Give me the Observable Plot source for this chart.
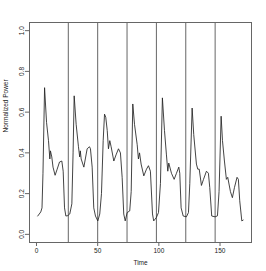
<!DOCTYPE html>
<html>
<head>
<meta charset="utf-8">
<script src="https://cdn.jsdelivr.net/npm/d3@7"></script>
<script src="https://cdn.jsdelivr.net/npm/@observablehq/plot@0.6"></script>
<style>
  html, body { margin: 0; padding: 0; background: #fff; }
</style>
</head>
<body>
<div id="chart"></div>
<script>
const time = [
  1, 3.5, 4.5, 5.3, 6.6, 8.2, 9.8, 10.9, 11.4, 12.5, 13.5, 15.2, 16.9, 18.8, 20.7, 21.8, 22.9, 24,
  25.6, 27.2, 28.9, 29.9, 30.8, 32.4, 34.3, 35.3, 35.8, 36.5, 38.7, 41.4, 43.3, 44.1, 45.5, 46.8, 48.2,
  50.1, 51.7, 53.1, 54.5, 55.6, 56.6, 57.8, 58.8, 59.9, 61, 63.2, 65, 67, 68.6, 70, 71.3, 72.5,
  74.1, 76.2, 77.4, 78.7, 80.1, 82.3, 83.3, 84.2, 85.5, 87.7, 89.9, 91.5, 93.1, 94.8, 95.8,
  98, 99.7, 101.3, 102.9, 104.6, 106.2, 107.3, 108.1, 110.3, 112.5, 114.4, 116.3, 117.1, 118.2, 119.9,
  122.5, 124.2, 125.3, 127.2, 128.5, 130.7, 131.8, 133, 134.8, 136.5, 138.9, 140.5, 141.6, 143.2,
  146, 147.9, 149.2, 150.9, 152, 153.6, 155.2, 156.3, 158.5, 160.1, 161.8, 163.9, 165, 166.1, 167.8, 168.9
];
const power = [
  0.09, 0.11, 0.13, 0.30, 0.72, 0.55, 0.46, 0.37, 0.41, 0.38, 0.33, 0.29, 0.32, 0.355, 0.36, 0.31, 0.13, 0.09,
  0.092, 0.10, 0.15, 0.40, 0.68, 0.54, 0.43, 0.38, 0.41, 0.37, 0.33, 0.42, 0.43, 0.42, 0.33, 0.13, 0.09,
  0.066, 0.10, 0.20, 0.46, 0.59, 0.575, 0.51, 0.42, 0.46, 0.43, 0.36, 0.39, 0.42, 0.40, 0.28, 0.10, 0.066,
  0.107, 0.115, 0.21, 0.64, 0.54, 0.44, 0.37, 0.40, 0.345, 0.287, 0.32, 0.337, 0.31, 0.10, 0.066,
  0.083, 0.107, 0.25, 0.67, 0.51, 0.39, 0.31, 0.35, 0.30, 0.27, 0.30, 0.33, 0.30, 0.13, 0.09,
  0.086, 0.107, 0.25, 0.62, 0.49, 0.345, 0.32, 0.32, 0.24, 0.27, 0.31, 0.30, 0.23, 0.09,
  0.086, 0.091, 0.21, 0.58, 0.46, 0.36, 0.27, 0.28, 0.21, 0.18, 0.23, 0.28, 0.27, 0.165, 0.066, 0.07
];
const cycleStarts = [26, 50, 74, 98, 122, 146];
const xTicks = [0, 50, 100, 150];
const yTicks = [0, 0.2, 0.4, 0.6, 0.8, 1.0];
const xLabel = "Time";
const yLabel = "Normalized Power";

const data = time.map((t, i) => ({time: t, power: power[i]}));

const chart = Plot.plot({
  width: 266,
  height: 271,
  marginLeft: 29,
  marginRight: 15,
  marginTop: 22,
  marginBottom: 29,
  style: {fontFamily: "'Liberation Sans', Arial, sans-serif", fontSize: "6.5px", background: "#fff", color: "#222"},
  x: {domain: [-5.72, 175.72]},
  y: {domain: [-0.04, 1.04]},
  marks: [
    Plot.ruleX(cycleStarts, {stroke: "#666", strokeWidth: 1}),
    Plot.line(data, {x: "time", y: "power", stroke: "#222", strokeWidth: 0.85}),
    Plot.frame({stroke: "#666", strokeWidth: 1}),
    Plot.axisX({ticks: xTicks, tickSize: 4, tickPadding: 2, stroke: "#666", label: null, fill: "#222"}),
    Plot.axisY({ticks: yTicks, tickSize: 4, stroke: "#666", label: null, tickFormat: () => ""}),
    Plot.text(yTicks, {y: d => d, text: d => d.toFixed(1), frameAnchor: "left", dx: -7.5, rotate: -90, textAnchor: "middle", lineAnchor: "middle", fill: "#222"}),
    Plot.text([xLabel], {frameAnchor: "bottom", dy: 20, lineAnchor: "middle", fill: "#222"}),
    Plot.text([yLabel], {frameAnchor: "left", dx: -24, rotate: -90, lineAnchor: "middle", fill: "#222"})
  ]
});
document.getElementById("chart").appendChild(chart);
</script>
</body>
</html>
